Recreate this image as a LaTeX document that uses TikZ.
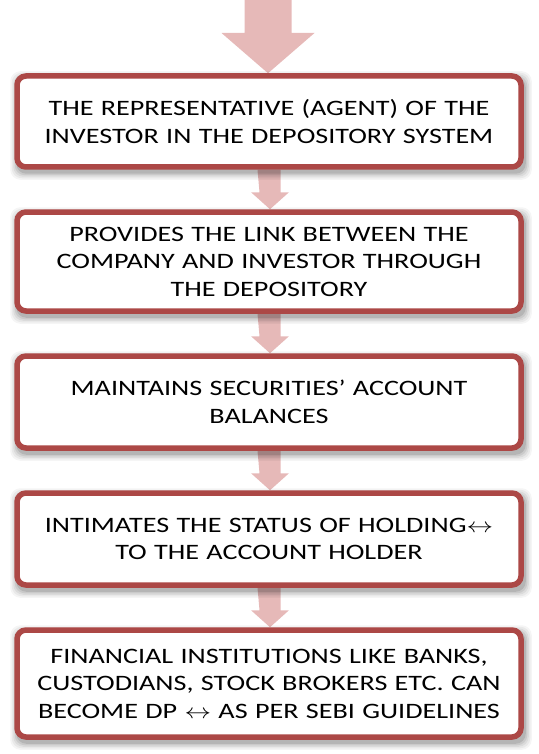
\documentclass[tikz,border=0pt]{standalone}
\usepackage{fontspec}
\setmainfont{Carlito}[FakeStretch=1.28]
\usetikzlibrary{calc}
\definecolor{boxred}{RGB}{172,72,70}
\definecolor{arrowpink}{RGB}{230,185,184}
\newcommand{\lrarr}{\scalebox{1.28}[1]{$\leftrightarrow$}}
\pgfdeclarelayer{arrows}
\pgfdeclarelayer{shadows}
\pgfsetlayers{arrows,shadows,main}
\begin{document}
\begin{tikzpicture}[x=1pt,y=-1pt,
  box/.style={draw=boxred, line width=5.5pt, rounded corners=9pt, fill=white,
    align=center, font=\fontsize{22}{27.5}\selectfont, minimum width=504pt,
    text width=500pt, inner sep=0pt},
  pinkarrow/.style={fill=arrowpink}]
\useasboundingbox (0,0) rectangle (538,754);

\node[box, minimum height=91pt] (b1) at (269,121.5) {THE REPRESENTATIVE (AGENT) OF THE\\INVESTOR IN THE DEPOSITORY SYSTEM};
\node[box, minimum height=99pt] (b2) at (269,261.5) {PROVIDES THE LINK BETWEEN THE\\COMPANY AND INVESTOR THROUGH\\THE DEPOSITORY};
\node[box, minimum height=92pt] (b3) at (269,402) {MAINTAINS SECURITIES’ ACCOUNT\\BALANCES};
\node[box, minimum height=92pt] (b4) at (269,539) {INTIMATES THE STATUS OF HOLDING\lrarr\\TO THE ACCOUNT HOLDER};
\node[box, minimum height=107pt] (b5) at (269,683.5) {FINANCIAL INSTITUTIONS LIKE BANKS,\\CUSTODIANS, STOCK BROKERS ETC. CAN\\BECOME DP \lrarr{} AS PER SEBI GUIDELINES};

\coordinate (top) at (268,0);

\begin{pgfonlayer}{arrows}
  % big top arrow
  \fill[pinkarrow] ($(top)+(-23.5,0)$) -- ($(top)+(23.5,0)$) -- ($(top)+(23.5,33)$)
     -- ($(top)+(46.5,33)$) -- ($(b1.north)+(-1,0)$) -- ($(top)+(-46.5,33)$)
     -- ($(top)+(-23.5,33)$) -- cycle;
  % small arrows between boxes
  \foreach \a/\b in {b1/b2,b2/b3,b3/b4,b4/b5}{
    \fill[pinkarrow] ($(\a.south)+(-11.5,0)$) -- ($(\a.south)+(11.5,0)$)
      -- ($(\b.north)+(11.5,-17)$) -- ($(\b.north)+(20,-17)$) -- ($(\b.north)+(1,0)$)
      -- ($(\b.north)+(-18,-17)$) -- ($(\b.north)+(-9.5,-17)$) -- cycle;
  }
\end{pgfonlayer}

\begin{pgfonlayer}{shadows}
  \foreach \b in {b1,b2,b3,b4,b5}{
    \foreach \e/\o in {6/0.04,4.5/0.05,3/0.06,1.5/0.08,0/0.1}{
      \fill[black, opacity=\o, rounded corners=10pt]
        ($(\b.north west)+(2-\e,4-\e)$) rectangle ($(\b.south east)+(2+\e,4+\e)$);
    }
  }
\end{pgfonlayer}
\end{tikzpicture}
\end{document}
